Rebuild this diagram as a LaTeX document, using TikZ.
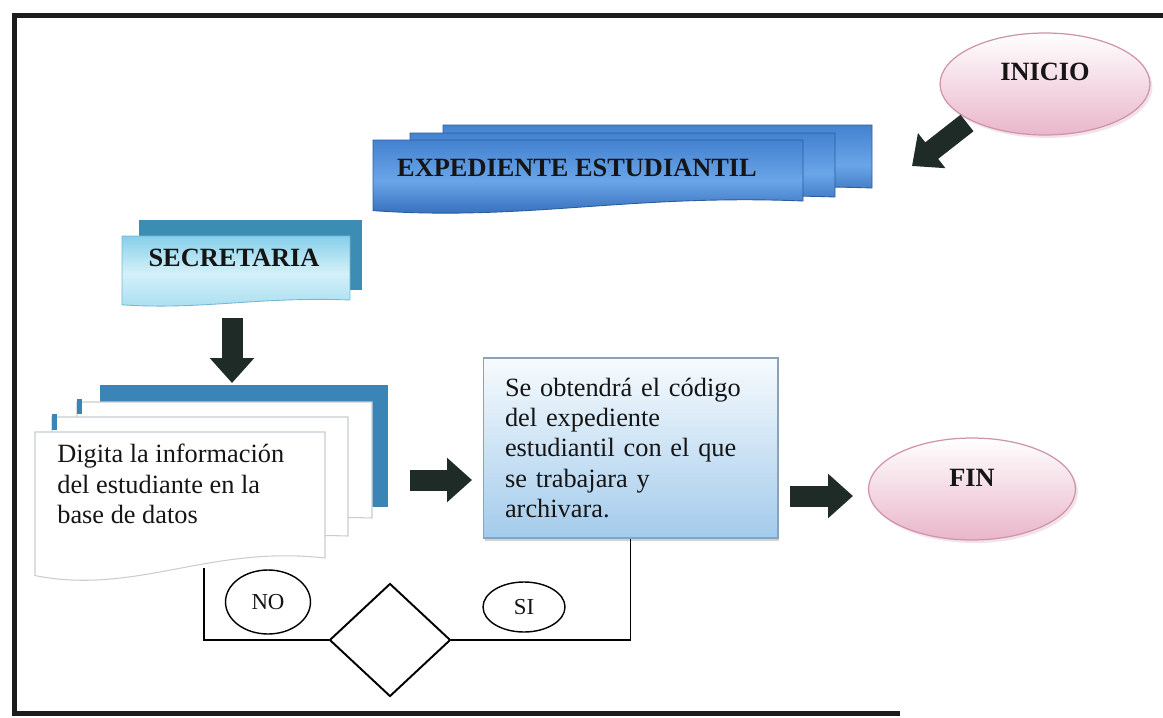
\documentclass[tikz,border=0pt]{standalone}
\usepackage{fontspec}
\setmainfont{Liberation Serif}
\usetikzlibrary{shapes.geometric,arrows.meta,shadows}
\definecolor{frameC}{HTML}{1C1C1C}
\definecolor{expTop}{HTML}{4482D0}
\definecolor{expMid}{HTML}{6AA5E8}
\definecolor{expBot}{HTML}{2C64B2}
\definecolor{expLine}{HTML}{2B5C9C}
\definecolor{secBack}{HTML}{3C8DB4}
\definecolor{secTop}{HTML}{86D0EA}
\definecolor{secMid}{HTML}{D4F0F9}
\definecolor{secBot}{HTML}{A6DEF0}
\definecolor{secLine}{HTML}{72B9D5}
\definecolor{docBlue}{HTML}{3A85B5}
\definecolor{docLine}{HTML}{C9CDD2}
\definecolor{boxTop}{HTML}{F7FBFE}
\definecolor{boxBot}{HTML}{A3CBEB}
\definecolor{boxLine}{HTML}{8AA3BB}
\definecolor{ovalBot}{HTML}{E9B6CA}
\definecolor{ovalLine}{HTML}{CF93AB}
\definecolor{arrowC}{HTML}{1F2B27}
\definecolor{txt}{HTML}{151515}
\newcommand{\docshape}[6]{\path[#1] (#2,#3) -- (#4,#3) -- (#4,{#5-#6}) .. controls ({#2+0.6*(#4-#2)},{#5-1.6*#6}) and ({#2+0.35*(#4-#2)},{#5+0.7*#6}) .. (#2,{#5-0.2*#6}) -- cycle;}
\begin{document}
\begin{tikzpicture}[x=0.02cm,y=-0.02cm,
  frame/.style={draw=frameC,line width=2.8pt,line join=miter},
  expdoc/.style={draw=expLine,line width=0.5pt,top color=expTop,bottom color=expBot,middle color=expMid},
  secfront/.style={draw=secLine,line width=0.5pt,top color=secTop,bottom color=secBot,middle color=secMid},
  wdoc/.style={draw=docLine,line width=0.6pt,fill=white},
  titletext/.style={font=\fontsize{15}{18}\selectfont\bfseries,text=txt,inner sep=0pt},
  bodytext/.style={font=\fontsize{15}{17.3}\selectfont,text=txt,align=left},
  sebox/.style={rectangle,draw=boxLine,line width=0.6pt,top color=boxTop,bottom color=boxBot,
    minimum width=5.9cm,minimum height=3.6cm,text width=5.02cm,inner xsep=0.44cm,
    drop shadow={opacity=0.35,shadow xshift=0.03cm,shadow yshift=-0.07cm}},
  oval/.style={ellipse,draw=ovalLine,line width=0.7pt,top color=white,bottom color=ovalBot,
    inner sep=0pt,font=\fontsize{15}{18}\selectfont\bfseries,text=txt,
    drop shadow={opacity=0.25,shadow xshift=0.05cm,shadow yshift=-0.06cm,fill=ovalLine}},
  barrow/.style={draw=arrowC,line width=0.42cm,-{Triangle[length=0.5cm,width=0.86cm]}},
  conn/.style={draw=black,line width=1.1pt},
  smalloval/.style={ellipse,draw=black,line width=0.8pt,inner sep=0pt,font=\fontsize{13}{15}\selectfont,text=txt},
  decision/.style={diamond,draw=black,line width=1.1pt,inner sep=0pt,minimum width=2.42cm,minimum height=2.26cm}
]
\useasboundingbox (0,0) rectangle (1163,717);
\fill[white] (0,0) rectangle (1163,717);
% frame
\draw[frame] (900,713.5) -- (14.5,713.5) -- (14.5,15.5) -- (1163,15.5);

% EXPEDIENTE ESTUDIANTIL (multi document)
\docshape{expdoc}{443}{125}{872}{198}{10}
\docshape{expdoc}{410}{133}{835}{207}{10}
\docshape{expdoc}{373}{140}{803}{213}{12}
\node[titletext] (exp) at (577,168) {EXPEDIENTE ESTUDIANTIL};

% SECRETARIA
\fill[secBack] (139,220) rectangle (362,290);
\docshape{secfront}{122}{236}{350}{306}{6}
\node[titletext] (sec) at (234,258) {SECRETARIA};

% Digita (multi document)
\fill[docBlue] (100,385) rectangle (388,507);
\docshape{wdoc}{77}{402}{372}{524}{6}
\fill[docBlue] (77,399) rectangle (82,414);
\docshape{wdoc}{52}{417}{348}{542}{6}
\fill[docBlue] (52,414) rectangle (57,430);
\docshape{wdoc}{35}{432}{325}{580}{22}
\node[bodytext,anchor=north west,inner sep=0pt] (digi) at (57,444) {Digita la información\\del estudiante en la\\base de datos};

% process box
\node[sebox,bodytext] (box) at (630.5,448) {Se obtendrá el código\\del expediente\\estudiantil con el que\\se trabajara y\\archivara.};

% terminals
\node[oval,minimum width=4.2cm,minimum height=2.04cm,text depth=0.48cm] (inicio) at (1045,84) {INICIO};
\node[oval,minimum width=4.14cm,minimum height=2.04cm,text depth=0.44cm] (fin) at (972,489) {FIN};

% block arrows
\coordinate (a1s) at (967,123);
\coordinate (a1e) at (912,166);
\coordinate (a2s) at (232,318);
\coordinate (a2e) at (232,383);
\coordinate (a3s) at (410,480);
\coordinate (a3e) at (472,480);
\coordinate (a4s) at (790,496);
\coordinate (a4e) at (853,496);
\draw[barrow] (a1s) -- (a1e);
\draw[barrow] (a2s) -- (a2e);
\draw[barrow] (a3s) -- (a3e);
\draw[barrow] (a4s) -- (a4e);

% decision loop
\node[decision] (dia) at (390,640) {};
\coordinate (digibot) at (204,568);
\draw[conn] (digibot) |- (dia.west);
\draw[conn] (dia.east) -| (box.south);
\node[smalloval,minimum width=1.7cm,minimum height=1.28cm] (no) at (268,602) {NO};
\node[smalloval,minimum width=1.64cm,minimum height=1.0cm] (si) at (524,607) {SI};
\end{tikzpicture}
\end{document}
